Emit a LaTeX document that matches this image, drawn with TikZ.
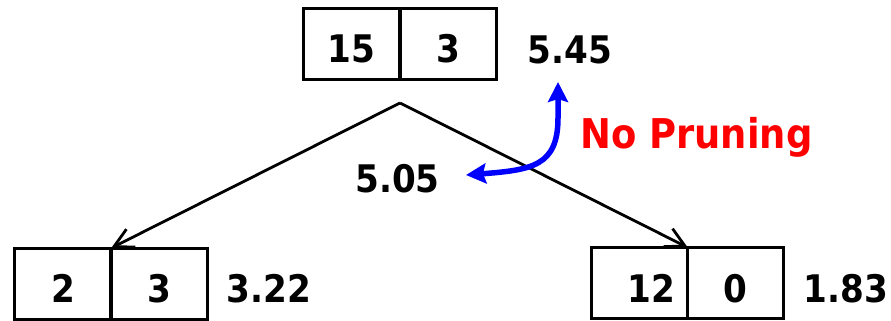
\documentclass[tikz,border=0pt]{standalone}
\usepackage{fontspec}
\setmainfont{DejaVu Sans Condensed}
\usetikzlibrary{arrows.meta}

\newcommand{\numfont}{\fontsize{38}{40}\selectfont\bfseries}
\definecolor{prunered}{RGB}{255,0,0}
\definecolor{arcblue}{RGB}{0,0,255}

\tikzset{
  cell/.style={draw, line width=3pt, minimum width=96.5pt, minimum height=71pt,
    inner sep=0pt, outer sep=0pt, text height=38pt, text depth=0pt, font=\numfont},
  val/.style={font=\numfont, inner sep=0pt},
  branch/.style={line width=2.8pt, -{Straight Barb[length=19pt,width=20pt]}},
  compare/.style={arcblue, line width=5.5pt, {Stealth[length=20pt,width=20pt,inset=3pt]}-{Stealth[length=20pt,width=20pt,inset=3pt]}},
}

\begin{document}
\begin{tikzpicture}[x=1pt, y=-1pt]
    \useasboundingbox (0,0) rectangle (891,321);

    % root box and its error
    \node[cell] (root-l) at (351.5,44) {15};
    \node[cell] (root-r) at (448.5,44) {3};
    \node[val] (e-root) at (570,50) {5.45};

    % the two leaves
    \node[cell] (left-l) at (63,283.5) {2};
    \node[cell] (left-r) at (159,283.5) {3};
    \node[val] (e-left) at (269,289) {3.22};

    \node[cell] (right-l) at (639.5,283) {\hphantom{1}12};
    \node[cell] (right-r) at (735.5,283) {0};
    \node[val] (e-right) at (846,289) {1.83};

    % split point and branches
    \coordinate (split) at (400,103);
    \draw[branch] (split) -- (left-l.north east);
    \draw[branch] (split) -- (right-l.north east);

    % backed-up error of the subtree
    \node[val] (e-sub) at (397.5,178.5) {5.05};

    % comparison arrow
    \coordinate (cmp-a) at (558,82);
    \coordinate (cmp-b) at (466,175);
    \draw[compare] (cmp-a) -- (558,118) .. controls (558,166) and (532,170) .. (cmp-b);
    \node[font=\fontsize{41}{44}\selectfont\bfseries, text=prunered, anchor=base, inner sep=0pt]
      (verdict) at (696.5,148) {No Pruning};
\end{tikzpicture}
\end{document}
